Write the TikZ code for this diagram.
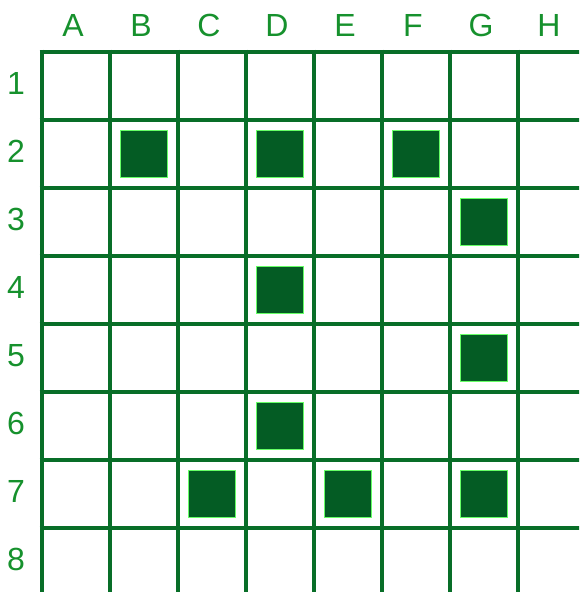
\documentclass[tikz,border=0pt]{standalone}
\usepackage{fontspec}
\setmainfont{Liberation Sans}
\definecolor{gridgreen}{RGB}{8,110,40}
\definecolor{fillgreen}{RGB}{4,92,36}
\definecolor{labelgreen}{RGB}{22,145,45}
\begin{document}
\begin{tikzpicture}[
    x=1pt, y=-1pt,
    gridline/.style={
        draw=gridgreen,
        line width=4pt
    },
    marked/.style={
        rectangle,
        fill=fillgreen,
        draw=green!60!white,
        line width=0.4pt,
        minimum size=47pt,
        inner sep=0pt
    },
    collabel/.style={
        font=\fontsize{32}{32}\selectfont,
        text=labelgreen,
        anchor=base
    },
    rowlabel/.style={
        font=\fontsize{32}{32}\selectfont,
        text=labelgreen,
        anchor=base
    }
]

% Rahmen des Bildes
\useasboundingbox (0,0) rectangle (579,592);
\clip (0,0) rectangle (579,592);

% Spaltenbeschriftung
\foreach \c [count=\i from 0] in {A,B,C,D,E,F,G,H}
    \node[collabel] (col\c) at (73+68*\i,36) {\c};

% Zeilenbeschriftung
\foreach \r [count=\i from 0] in {1,...,8}
    \node[rowlabel] (row\r) at (16,94.5+68*\i) {\r};

% Gitter
\foreach \i in {0,...,7} {
    \draw[gridline] (41.5+68*\i,49.5) -- (41.5+68*\i,600);
    \draw[gridline] (39.5,51.5+68*\i) -- (590,51.5+68*\i);
}

% Markierte Felder
\foreach \c/\r in {1/2,3/2,5/2,6/3,3/4,6/5,3/6,2/7,4/7,6/7} {
    \node[marked] (sq\c-\r) at (41.5+68*\c+34,51.5+68*\r-34) {};
}

\end{tikzpicture}
\end{document}
